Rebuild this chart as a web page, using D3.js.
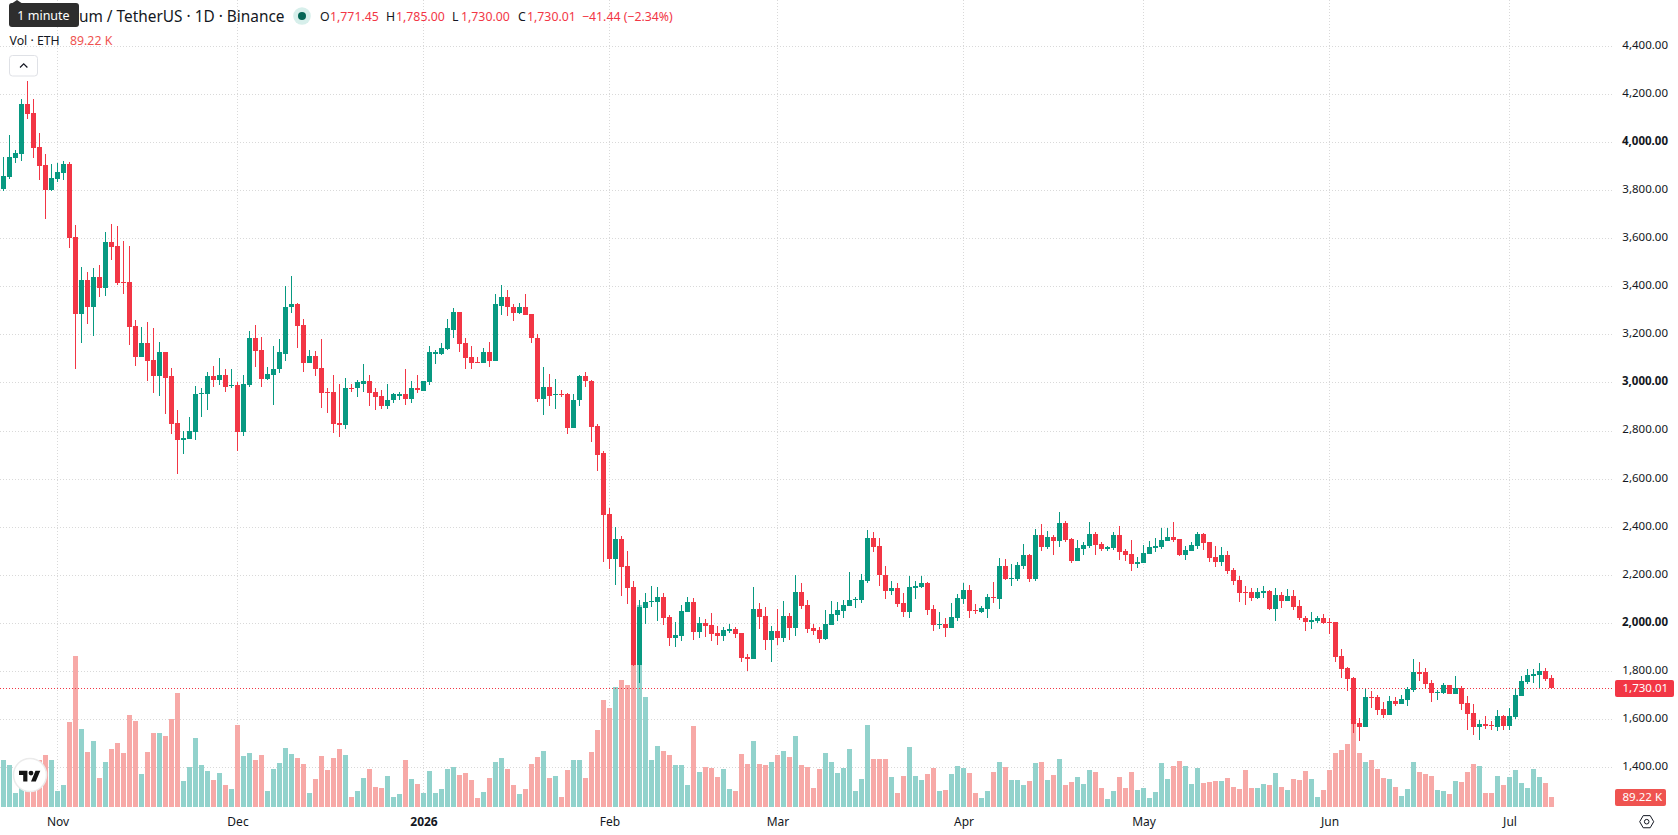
<!DOCTYPE html>
<html>
<head>
<meta charset="utf-8">
<title>ETHUSDT daily candles</title>
<script src="https://cdn.jsdelivr.net/npm/d3@7"></script>
<style>
  html, body { margin: 0; padding: 0; background: #fff; overflow: hidden; }
  svg { display: block; }
  text { font-family: "Noto Sans", sans-serif; }
</style>
</head>
<body>
<svg id="chart" width="1678" height="835"></svg>
<script>
// Daily ETH/USDT session values, oldest first. First session is 23 Oct 2025.
const firstSession = "2025-10-23";

const opens = [
  3806,3856,3935,3952,4160,4122,3981,3906,3802,3847,
  3872,3910,3606,3285,3427,3314,3439,3397,3585,3568,
  3418,3418,3235,3110,3168,3097,3027,3127,3027,2835,
  2764,2768,2797,2952,2956,3027,3014,3031,2989,2993,
  2797,2993,3189,3135,3018,3035,3056,3122,3314,3327,
  3239,3081,3114,3064,2964,2964,2835,2827,2981,2977,
  2997,3010,2964,2947,2902,2927,2947,2952,2935,2977,
  2968,3002,3122,3122,3143,3222,3297,3168,3110,3089,
  3085,3127,3093,3322,3356,3318,3293,3314,3285,3189,
  2935,2985,2952,2956,2956,2814,2927,3027,3010,2822,
  2707,2454,2268,2351,2239,2152,1828,2064,2089,2089,
  2110,2027,1940,1948,2048,2089,1965,2002,1994,1961,
  1948,1969,1977,1961,1861,1853,2060,2031,1932,1969,
  1940,2031,1982,2131,2077,1982,1973,1936,1994,2035,
  2052,2073,2098,2098,2176,2355,2322,2202,2136,2148,
  2086,2049,2148,2152,2169,2061,1991,1995,1982,2024,
  2103,2140,2057,2049,2061,2111,2103,2239,2185,2185,
  2239,2285,2185,2368,2318,2360,2343,2418,2351,2260,
  2310,2322,2372,2331,2310,2314,2368,2302,2289,2248,
  2252,2289,2314,2318,2343,2360,2351,2285,2302,2322,
  2372,2339,2277,2256,2285,2223,2181,2132,2132,2107,
  2127,2136,2061,2119,2094,2115,2073,2024,2007,2011,
  2024,2007,2007,1862,1812,1771,1584,1568,1692,1692,
  1642,1617,1675,1663,1679,1721,1796,1796,1750,1708,
  1708,1742,1704,1729,1667,1627,1569,1582,1577,1569,
  1615,1573,1611,1698,1756,1781,1785,1801,1771.45
];

const highs = [
  3938,4031,3971,4181,4256,4181,4039,3952,3910,3914,
  3922,3918,3656,3481,3460,3477,3489,3627,3660,3652,
  3589,3568,3260,3231,3252,3227,3172,3127,3064,2889,
  2802,2860,2989,2981,3047,3072,3102,3056,3056,3002,
  3035,3218,3243,3193,3068,3152,3181,3402,3447,3331,
  3268,3135,3131,3181,2981,3031,2997,3022,2997,3014,
  3077,3035,2981,2972,2997,2960,2964,3060,3010,3031,
  3010,3152,3139,3168,3268,3310,3297,3185,3152,3106,
  3147,3172,3368,3406,3385,3327,3331,3372,3285,3202,
  3068,3039,3018,2972,2960,2952,3035,3047,3014,2831,
  2716,2479,2400,2363,2301,2176,2098,2127,2156,2152,
  2127,2035,2006,2077,2110,2106,2027,2019,2044,1990,
  1986,1998,1986,1961,1874,2152,2085,2069,1990,2060,
  2093,2044,2201,2168,2098,1998,1986,2056,2093,2089,
  2098,2214,2110,2205,2388,2380,2355,2239,2177,2169,
  2127,2198,2177,2198,2173,2078,2049,2020,2086,2123,
  2169,2161,2082,2073,2123,2173,2273,2268,2248,2256,
  2331,2289,2393,2414,2385,2368,2463,2426,2356,2347,
  2339,2422,2380,2339,2322,2380,2405,2310,2347,2277,
  2327,2343,2356,2397,2397,2422,2351,2322,2339,2380,
  2376,2339,2322,2318,2302,2231,2198,2156,2148,2148,
  2156,2140,2148,2132,2144,2140,2098,2032,2049,2032,
  2040,2024,2007,1895,1820,1775,1605,1725,1717,1700,
  1671,1696,1692,1700,1733,1850,1841,1812,1762,1721,
  1750,1742,1779,1738,1696,1665,1598,1615,1594,1640,
  1619,1648,1727,1781,1810,1810,1835,1814,1785
];

const lows = [
  3799,3847,3914,3922,4097,3935,3843,3681,3797,3835,
  3843,3560,3060,3168,3247,3197,3356,3360,3510,3406,
  3372,3156,3072,3110,3006,2960,2947,2872,2789,2622,
  2706,2768,2764,2860,2889,2985,2993,2964,2977,2718,
  2781,2985,3068,2985,3014,2910,3043,3093,3289,3147,
  3047,3081,3027,2897,2877,2793,2777,2810,2964,2943,
  2964,2902,2889,2893,2893,2918,2927,2910,2918,2960,
  2968,2993,3077,3118,3139,3185,3127,3056,3060,3081,
  3085,3068,3093,3281,3277,3256,3285,3281,3168,2922,
  2868,2906,2893,2943,2789,2814,2902,2985,2756,2635,
  2255,2226,2160,2114,2081,1824,1753,1998,2069,2011,
  1994,1907,1903,1928,2048,1932,1940,1944,1928,1911,
  1928,1961,1940,1840,1803,1853,1977,1890,1840,1911,
  1923,1932,1948,2060,1961,1952,1919,1932,1994,2011,
  2023,2073,2064,2085,2168,2297,2156,2102,2119,2069,
  2028,2024,2103,2148,2036,1970,1978,1941,1982,2011,
  2082,2020,2040,2044,2024,2086,2061,2181,2156,2177,
  2227,2173,2177,2302,2310,2285,2318,2339,2252,2260,
  2285,2314,2285,2302,2302,2306,2264,2260,2219,2231,
  2252,2289,2297,2310,2343,2339,2281,2264,2302,2310,
  2306,2256,2235,2239,2206,2161,2090,2078,2094,2103,
  2107,2057,2011,2065,2094,2057,2015,1966,1978,2003,
  1995,1957,1841,1771,1717,1543,1509,1568,1646,1617,
  1605,1617,1655,1663,1655,1713,1758,1725,1671,1679,
  1704,1704,1704,1638,1555,1536,1515,1561,1557,1553,
  1557,1557,1602,1698,1748,1752,1731,1760,1730
];

const closes = [
  3860,3938,3956,4160,4118,3977,3902,3802,3852,3877,
  3910,3602,3285,3427,3314,3439,3397,3585,3564,3414,
  3414,3231,3110,3168,3093,3027,3127,3022,2831,2764,
  2772,2802,2956,2960,3027,3014,3031,2985,2993,2797,
  2997,3189,3131,3018,3039,3060,3127,3318,3327,3235,
  3081,3114,3060,2960,2960,2831,2827,2981,2977,3002,
  3010,2960,2943,2902,2931,2952,2952,2935,2977,2972,
  3006,3127,3127,3147,3227,3297,3164,3102,3085,3085,
  3127,3093,3327,3356,3314,3293,3314,3281,3185,2935,
  2985,2947,2956,2952,2814,2931,3027,3006,2818,2702,
  2450,2268,2351,2234,2147,1828,2069,2089,2093,2110,
  2023,1940,1952,2052,2089,1965,2002,1990,1957,1948,
  1973,1977,1957,1857,1853,2060,2027,1932,1969,1940,
  2031,1982,2131,2073,1977,1969,1936,1998,2040,2056,
  2077,2098,2102,2181,2355,2317,2201,2136,2148,2082,
  2049,2152,2156,2169,2057,1991,1995,1982,2028,2107,
  2140,2053,2053,2065,2111,2107,2239,2185,2190,2244,
  2285,2185,2368,2318,2360,2343,2418,2347,2260,2314,
  2327,2372,2327,2310,2318,2368,2297,2285,2248,2256,
  2293,2318,2322,2347,2360,2347,2285,2306,2327,2372,
  2335,2273,2256,2285,2219,2177,2127,2127,2107,2132,
  2136,2061,2119,2094,2115,2069,2020,2007,2015,2024,
  2003,2003,1858,1808,1767,1580,1568,1692,1688,1638,
  1617,1675,1663,1684,1725,1796,1791,1746,1708,1713,
  1742,1704,1729,1663,1621,1569,1582,1573,1573,1615,
  1573,1615,1702,1760,1785,1789,1801,1768,1730.01
];

// Traded volume in thousands of ETH.
const volumes = [
  431,385,126,339,308,323,431,477,431,145,
  200,782,1392,718,505,607,265,413,533,588,
  496,847,792,302,505,681,681,653,810,1050,
  237,367,634,385,330,246,311,200,163,755,
  468,496,431,477,145,348,403,542,487,450,
  394,126,256,468,339,450,533,477,89,145,
  265,348,182,172,283,89,117,431,256,209,
  126,330,126,163,348,367,293,311,246,80,
  136,265,413,450,348,200,117,163,394,459,
  514,265,283,89,339,431,431,265,505,708,
  986,912,1106,1170,1124,1540,1863,1013,431,561,
  514,477,385,385,200,745,320,367,357,274,
  348,163,145,487,394,607,394,385,413,477,
  514,459,653,385,367,172,348,496,413,311,
  357,533,145,256,755,440,440,440,274,126,
  283,551,283,246,302,357,145,154,302,376,
  357,311,126,80,145,320,413,367,246,246,
  200,237,403,413,246,293,440,200,228,274,
  209,339,320,172,71,145,274,172,320,154,
  172,80,136,403,256,376,422,376,209,357,
  219,228,237,237,265,182,163,339,172,172,
  209,200,311,182,154,256,246,330,256,89,
  154,339,496,524,579,785,496,413,431,348,
  265,256,182,99,163,413,320,302,283,154,
  145,117,237,228,320,394,376,126,126,283,
  200,274,339,219,172,348,274,219,89.22
];

const priceTicks = [4400,4200,4000,3800,3600,3400,3200,3000,2800,2600,2400,2200,2000,1800,1600,1400];
const boldPriceTicks = [4000,3000,2000];
const monthTicks = ["2025-11-01","2025-12-01","2026-01-01","2026-02-01","2026-03-01","2026-04-01","2026-05-01","2026-06-01","2026-07-01"];
const monthLabels = ["Nov","Dec","2026","Feb","Mar","Apr","May","Jun","Jul"];
const symbolTitle = "Ethereum / TetherUS · 1D · Binance";
const lastOpen = "1,771.45", lastHigh = "1,785.00", lastLow = "1,730.00", lastClose = "1,730.01";
const lastChange = "−41.44 (−2.34%)";
const volumeName = "Vol · ETH", lastVolume = "89.22 K";

const up = "#089981", down = "#f23645";
const upVol = "#92d2cc", downVol = "#f7a9a7";
const gridColor = "#d9d9d9";
const plotRight = 1613, plotBottom = 807;

const parseDay = d3.utcParse("%Y-%m-%d");
const day0 = parseDay(firstSession);
const sessions = opens.map((_, i) => ({
  date: d3.utcDay.offset(day0, i),
  open: opens[i], high: highs[i], low: lows[i], close: closes[i], volume: volumes[i]
}));

const svg = d3.select("#chart");

// Day centres sit on half pixels, six pixels apart.
const x = d3.scaleUtc()
  .domain([day0, d3.utcDay.offset(day0, opens.length - 1)])
  .range([3.5, 3.5 + 6 * (opens.length - 1)]);
const y = d3.scaleLinear().domain([1400, 4400]).range([767.5, 46.45]);
const yVol = d3.scaleLinear().domain([0, 1863]).range([plotBottom, 605]);
const crisp = v => Math.floor(v) + 0.5;

// Dotted grid
const grid = svg.append("g").attr("fill", "none").attr("stroke", gridColor)
  .attr("stroke-dasharray", "1 2");
grid.selectAll(".h").data(priceTicks).join("line").attr("class", "h")
  .attr("x1", 0).attr("x2", plotRight)
  .attr("y1", d => crisp(y(d))).attr("y2", d => crisp(y(d)));
grid.selectAll(".v").data(monthTicks).join("line").attr("class", "v")
  .attr("x1", d => x(parseDay(d))).attr("x2", d => x(parseDay(d)))
  .attr("y1", 0).attr("y2", plotBottom);

// Volume histogram
svg.append("g").selectAll("rect").data(sessions).join("rect")
  .attr("x", d => x(d.date) - 2.5)
  .attr("width", 5)
  .attr("y", d => Math.round(yVol(d.volume)))
  .attr("height", d => plotBottom - Math.round(yVol(d.volume)))
  .attr("fill", d => d.close >= d.open ? upVol : downVol);

// Last-price line
const lastY = crisp(y(closes[closes.length - 1]));
svg.append("line").attr("x1", 0).attr("x2", plotRight).attr("y1", lastY).attr("y2", lastY)
  .attr("stroke", down).attr("stroke-dasharray", "1 2");

// Candles: wick then body
const candles = svg.append("g").selectAll("g").data(sessions).join("g")
  .attr("fill", d => d.close >= d.open ? up : down);
candles.append("rect")
  .attr("x", d => x(d.date) - 0.5).attr("width", 1)
  .attr("y", d => Math.round(y(d.high)))
  .attr("height", d => Math.max(1, Math.round(y(d.low)) - Math.round(y(d.high))));
candles.append("rect")
  .attr("x", d => x(d.date) - 2.5).attr("width", 5)
  .attr("y", d => Math.round(y(Math.max(d.open, d.close))))
  .attr("height", d => Math.max(1, Math.round(y(Math.min(d.open, d.close))) - Math.round(y(Math.max(d.open, d.close)))));

// Price axis
const yAxis = svg.append("g").attr("transform", "translate(1668,0)")
  .call(d3.axisRight(y).tickValues(priceTicks).tickSize(0).tickPadding(0).tickFormat(d3.format(",.2f")));
yAxis.select(".domain").remove();
yAxis.selectAll("text")
  .attr("text-anchor", "end").attr("y", -1.7).attr("fill", "#131722")
  .attr("font-size", 11.5).attr("font-family", '"Noto Sans", sans-serif')
  .attr("font-weight", d => boldPriceTicks.includes(d) ? 700 : 400);

// Time axis
const xAxis = svg.append("g").attr("transform", "translate(0,817.5)")
  .call(d3.axisBottom(x).tickValues(monthTicks.map(parseDay)).tickSize(0).tickPadding(0)
    .tickFormat((d, i) => monthLabels[i]));
xAxis.select(".domain").remove();
xAxis.selectAll("text")
  .attr("fill", "#131722").attr("font-size", 12).attr("font-family", '"Noto Sans", sans-serif')
  .attr("font-weight", (d, i) => monthLabels[i] === "2026" ? 700 : 400);

// Value tags on the price scale
function tag(yTop, h, w, fill, label) {
  svg.append("rect").attr("x", 1615).attr("y", yTop).attr("width", w).attr("height", h)
    .attr("rx", 2).attr("fill", fill);
  svg.append("text").attr("x", 1622.5).attr("y", yTop + h / 2 + 3.5)
    .attr("fill", "#fff").attr("font-size", 11.5).text(label);
}
tag(680, 17, 59, down, lastClose);
tag(789, 17, 51, "#ef5350", lastVolume);

// Settings glyph
const hex = d3.line()(d3.range(6).map(k => {
  const a = Math.PI / 3 * k;
  return [1646.7 + 7 * Math.cos(a), 821.7 + 7 * Math.sin(a)];
})) + "Z";
svg.append("path").attr("d", hex).attr("fill", "none").attr("stroke", "#131722").attr("stroke-width", 1);
svg.append("circle").attr("cx", 1646.7).attr("cy", 821.7).attr("r", 2.3)
  .attr("fill", "none").attr("stroke", "#131722").attr("stroke-width", 1);

// Watermark badge
svg.append("circle").attr("cx", 30).attr("cy", 775).attr("r", 16.5)
  .attr("fill", "#fff").attr("stroke", "#ebebeb").attr("stroke-width", 1.5);
const badge = svg.append("g").attr("transform", "translate(19,768.3) scale(0.6)").attr("fill", "#131313");
badge.append("path").attr("d", "M14 22H7V11H0V4h14v18zM28 22h-8l7.5-18h8L28 22z");
badge.append("circle").attr("cx", 20).attr("cy", 8).attr("r", 4);

// Legend rows
const legend = svg.append("g");
legend.append("text").attr("x", 284.5).attr("y", 21.5).attr("text-anchor", "end")
  .attr("font-size", 15.4).attr("fill", "#131722").text(symbolTitle);
svg.append("circle").attr("cx", 302).attr("cy", 16).attr("r", 8.8).attr("fill", "#d7efeb");
svg.append("circle").attr("cx", 302).attr("cy", 16).attr("r", 4).attr("fill", "#056656");

[["O", 320, lastOpen, 330], ["H", 386, lastHigh, 396], ["L", 452, lastLow, 461], ["C", 518, lastClose, 527]]
  .forEach(([k, kx, v, vx]) => {
    legend.append("text").attr("x", kx).attr("y", 20.5).attr("font-size", 12.3).attr("fill", "#131722").text(k);
    legend.append("text").attr("x", vx).attr("y", 20.5).attr("font-size", 12.3).attr("fill", down).text(v);
  });
legend.append("text").attr("x", 582).attr("y", 20.5).attr("font-size", 12.3).attr("fill", down).text(lastChange);
legend.append("text").attr("x", 9.5).attr("y", 45).attr("font-size", 12.3).attr("fill", "#131722").text(volumeName);
legend.append("text").attr("x", 70).attr("y", 45).attr("font-size", 12.3).attr("fill", "#ef5350").text(lastVolume);

// Collapse button
svg.append("rect").attr("x", 9.5).attr("y", 55.5).attr("width", 28).attr("height", 20.5).attr("rx", 3)
  .attr("fill", "#fff").attr("stroke", "#dfe1e6");
svg.append("path").attr("d", "M20 67.5l3.7-3.7 3.7 3.7").attr("fill", "none").attr("stroke", "#131722").attr("stroke-width", 1.2);

// Hover hint over the symbol name
svg.append("path").attr("d", "M11 4L17 0L23 4Z").attr("fill", "#2e2e2e");
svg.append("rect").attr("x", 9).attr("y", 3).attr("width", 70).attr("height", 24).attr("rx", 3).attr("fill", "#2e2e2e");
svg.append("text").attr("x", 43.5).attr("y", 20).attr("text-anchor", "middle")
  .attr("font-size", 12.5).attr("fill", "#fff").text("1 minute");
</script>
</body>
</html>
